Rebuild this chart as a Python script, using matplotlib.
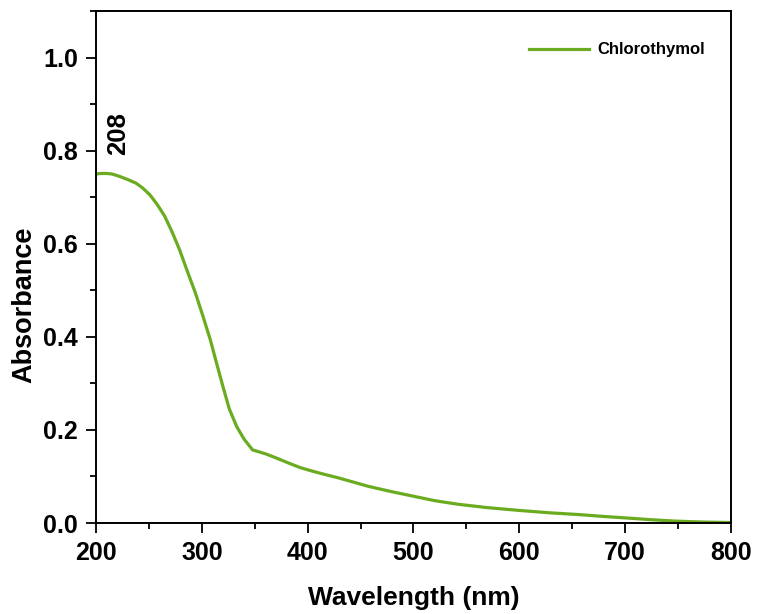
import matplotlib
matplotlib.use('Agg')
import matplotlib.pyplot as plt
from matplotlib.ticker import MultipleLocator, FormatStrFormatter

plt.rcParams['font.family'] = ['Liberation Sans', 'DejaVu Sans']
plt.rcParams['font.weight'] = 'bold'

# UV-Vis spectrum
wavelength = [200, 205, 210, 215, 222, 230, 238, 244, 251, 258, 265, 272, 279, 286, 294,
              301, 308, 314, 320, 326, 333, 340, 348, 354, 361, 370, 384, 393, 402,
              415, 429, 443, 457, 478, 499, 520, 543, 570, 600, 628, 657, 680,
              700, 725, 748, 775, 800]
absorbance = [0.750, 0.751, 0.751, 0.750, 0.745, 0.738, 0.730, 0.720, 0.705, 0.684, 0.659,
              0.625, 0.587, 0.543, 0.494, 0.445, 0.394, 0.343, 0.293, 0.245, 0.207,
              0.180, 0.157, 0.153, 0.148, 0.140, 0.127, 0.119, 0.113, 0.105, 0.097,
              0.088, 0.079, 0.068, 0.058, 0.048, 0.040, 0.033, 0.027, 0.022, 0.018,
              0.014, 0.011, 0.007, 0.004, 0.002, 0.001]

peak_label = '208'
series_name = 'Chlorothymol'

fig = plt.figure(figsize=(7.58, 6.14), dpi=100)
ax = fig.add_axes([0.1266, 0.1482, 0.8378, 0.8338])

ax.plot(wavelength, absorbance, color='#6aab1f', linewidth=2.3, label=series_name)

ax.set_xlim(200, 800)
ax.set_ylim(0, 1.1)
ax.xaxis.set_major_locator(MultipleLocator(100))
ax.xaxis.set_minor_locator(MultipleLocator(50))
ax.yaxis.set_major_locator(MultipleLocator(0.2))
ax.yaxis.set_minor_locator(MultipleLocator(0.1))
ax.yaxis.set_major_formatter(FormatStrFormatter('%.1f'))

ax.tick_params(which='major', direction='out', length=7, width=1.3, labelsize=18, pad=6)
ax.tick_params(which='minor', direction='out', length=4, width=1.3)
for sp in ax.spines.values():
    sp.set_linewidth(1.4)

ax.set_xlabel('Wavelength (nm)', fontsize=19, fontweight='bold', labelpad=15)
ax.set_ylabel('Absorbance', fontsize=19.5, fontweight='bold')
ax.yaxis.set_label_coords(-0.092, 0.426)

ax.text(221, 0.837, peak_label, rotation=90, fontsize=18.5, fontweight='bold',
        ha='center', va='center')

ax.legend(loc='center right', frameon=False, fontsize=12, handlelength=3.6,
          handletextpad=0.5, borderpad=0, borderaxespad=0,
          bbox_to_anchor=(0.959, 0.924))

fig.savefig('out.png', dpi=100)
